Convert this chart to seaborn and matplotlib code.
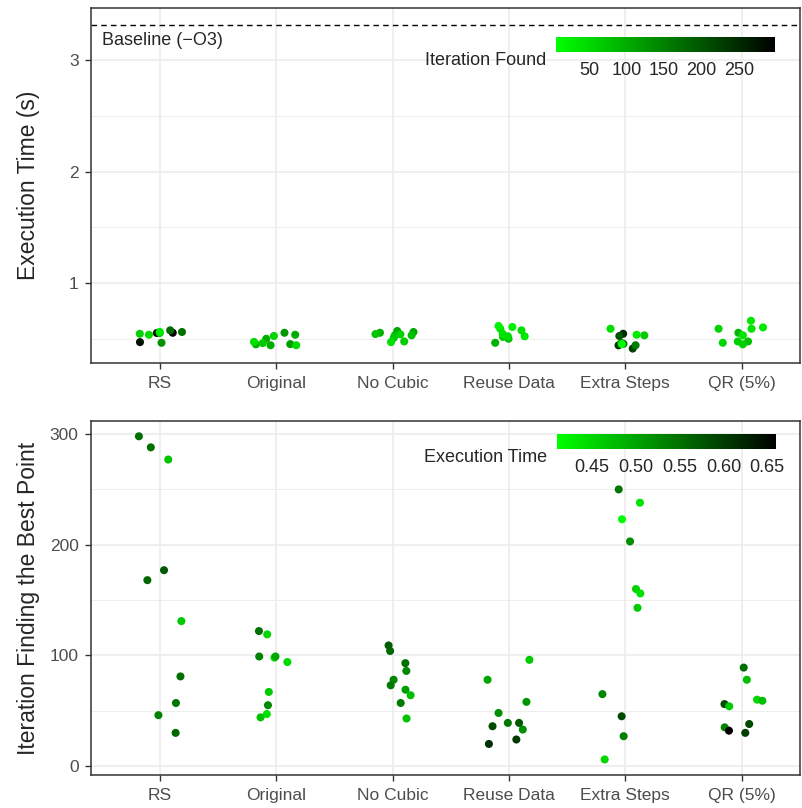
import numpy as np
import pandas as pd
import matplotlib
matplotlib.use("Agg")
import matplotlib.pyplot as plt
import seaborn as sns
from matplotlib.colors import LinearSegmentedColormap, Normalize
from matplotlib.cm import ScalarMappable
from matplotlib.ticker import MultipleLocator

# データ (読み取り値)
categories = ["RS", "Original", "No Cubic", "Reuse Data", "Extra Steps", "QR (5%)"]

rs_iter = [277, 298, 288, 177, 168, 131, 81, 57, 46, 30]
rs_time = [0.468, 0.552, 0.550, 0.574, 0.559, 0.462, 0.550, 0.543, 0.534, 0.560]

orig_iter = [122, 119, 98, 94, 99, 99, 67, 55, 47, 44]
orig_time = [0.552, 0.450, 0.440, 0.448, 0.498, 0.534, 0.459, 0.523, 0.440, 0.470]

nocubic_iter = [109, 104, 93, 86, 78, 73, 69, 64, 57, 43]
nocubic_time = [0.568, 0.559, 0.552, 0.529, 0.529, 0.540, 0.505, 0.474, 0.538, 0.468]

reuse_iter = [96, 78, 58, 48, 39, 33, 39, 36, 24, 20]
reuse_time = [0.462, 0.498, 0.514, 0.520, 0.543, 0.520, 0.574, 0.588, 0.604, 0.613]

extra_iter = [250, 238, 223, 203, 160, 156, 143, 65, 45, 27, 6]
extra_time = [0.543, 0.439, 0.410, 0.523, 0.453, 0.440, 0.460, 0.529, 0.588, 0.534, 0.450]

qr_iter = [89, 78, 60, 59, 56, 54, 38, 35, 32, 30]
qr_time = [0.552, 0.474, 0.448, 0.474, 0.588, 0.462, 0.588, 0.529, 0.660, 0.600]

baseline = 3.32

iters = [rs_iter, orig_iter, nocubic_iter, reuse_iter, extra_iter, qr_iter]
times = [rs_time, orig_time, nocubic_time, reuse_time, extra_time, qr_time]
df = pd.concat([pd.DataFrame({"group": g, "iteration": it, "time": tm})
                for g, it, tm in zip(categories, iters, times)], ignore_index=True)

# green -> black gradient
cmap = LinearSegmentedColormap.from_list("green_black", ["#00FF00", "#000000"])

iter_norm = Normalize(df["iteration"].min(), df["iteration"].max())
time_norm = Normalize(df["time"].min(), df["time"].max())

sns.set_style("white")
plt.rcParams["font.family"] = ["Liberation Sans", "DejaVu Sans"]

fig = plt.figure(figsize=(8.02, 8.08), dpi=100)
ax_top = fig.add_axes([0.1135, 0.5507, 0.884, 0.4394])
ax_bot = fig.add_axes([0.1135, 0.0408, 0.884, 0.438])

np.random.seed(7)
sns.stripplot(data=df, x="group", y="time", hue="iteration", order=categories,
              palette=cmap, hue_norm=iter_norm, jitter=0.2, size=5.8,
              linewidth=0, legend=False, ax=ax_top, zorder=3)
sns.stripplot(data=df, x="group", y="iteration", hue="time", order=categories,
              palette=cmap, hue_norm=time_norm, jitter=0.2, size=5.8,
              linewidth=0, legend=False, ax=ax_bot, zorder=3)

ax_top.axhline(baseline, color="black", lw=1.0, ls=(0, (4, 3)), zorder=2)
ax_top.text(-0.5, 3.18, "Baseline (\u2212O3)", fontsize=13, ha="left", va="center")

ax_top.set_ylim(0.28, 3.47)
ax_top.yaxis.set_major_locator(MultipleLocator(1))
ax_top.yaxis.set_minor_locator(MultipleLocator(0.5))
ax_bot.set_ylim(-8.1, 311.7)
ax_bot.yaxis.set_major_locator(MultipleLocator(100))
ax_bot.yaxis.set_minor_locator(MultipleLocator(50))

for ax, ylab in [(ax_top, "Execution Time (s)"), (ax_bot, "Iteration Finding the Best Point")]:
    ax.set_xlim(-0.59, 5.5)
    ax.set_axisbelow(True)
    ax.grid(True, which="major", color="#EBEBEB", lw=1.1)
    ax.grid(True, which="minor", axis="y", color="#EBEBEB", lw=0.6)
    ax.xaxis.grid(True, which="major", color="#EBEBEB", lw=1.1)
    ax.set_xlabel("")
    ax.set_ylabel(ylab, fontsize=16.5)
    ax.yaxis.set_label_coords(-0.072, 0.5)
    ax.tick_params(which="major", length=4, width=1, color="#333333",
                   labelsize=12.5, labelcolor="#4D4D4D", pad=5, left=True, bottom=True)
    ax.tick_params(which="minor", length=0)
    for s in ax.spines.values():
        s.set_visible(True)
        s.set_color("#333333")
        s.set_linewidth(1.1)


# colour bars
def add_cbar(rect, norm, ticks, labels, title, title_xy):
    cax = fig.add_axes(rect)
    cb = fig.colorbar(ScalarMappable(norm=norm, cmap=cmap), cax=cax, orientation="horizontal")
    cb.outline.set_visible(False)
    cb.set_ticks(ticks)
    cb.set_ticklabels(labels)
    cax.tick_params(axis="x", direction="in", length=3, width=0.8, color="white",
                    top=True, bottom=True, labelsize=13, pad=7)
    fig.text(title_xy[0], title_xy[1], title, fontsize=13, ha="right", va="center")


add_cbar([0.6933, 0.9356, 0.273, 0.0186], iter_norm, [50, 100, 150, 200, 250],
         ["50", "100", "150", "200", "250"], "Iteration Found", (0.681, 0.9257))
add_cbar([0.6945, 0.4443, 0.273, 0.0186], time_norm, [0.45, 0.50, 0.55, 0.60, 0.65],
         ["0.45", "0.50", "0.55", "0.60", "0.65"], "Execution Time", (0.682, 0.4344))

plt.savefig("out.png", dpi=100)
